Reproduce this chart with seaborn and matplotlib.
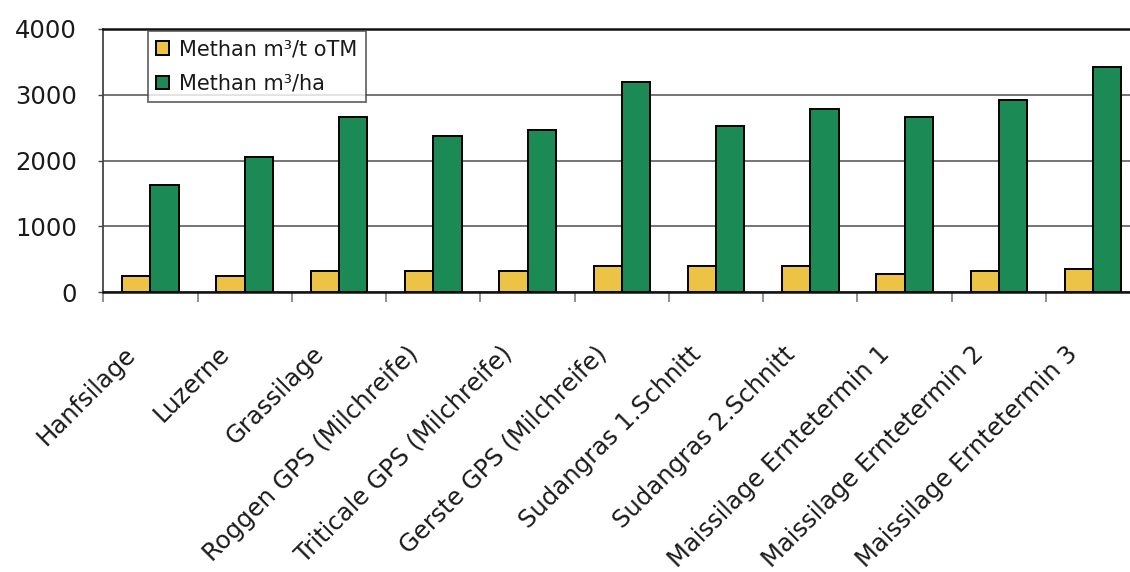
import numpy as np
import pandas as pd
import matplotlib
matplotlib.use("Agg")
import matplotlib.pyplot as plt
import matplotlib.transforms as mtransforms
import seaborn as sns

categories = [
    "Hanfsilage", "Luzerne", "Grassilage", "Roggen GPS (Milchreife)",
    "Triticale GPS (Milchreife)", "Gerste GPS (Milchreife)",
    "Sudangras 1.Schnitt", "Sudangras 2.Schnitt",
    "Maissilage Erntetermin 1", "Maissilage Erntetermin 2",
    "Maissilage Erntetermin 3",
]
series_names = ["Methan m³/t oTM", "Methan m³/ha"]
methan_t_otm = [250, 250, 320, 320, 320, 390, 390, 390, 280, 320, 350]
methan_ha = [1630, 2050, 2660, 2370, 2470, 3200, 2520, 2780, 2660, 2920, 3420]
y_ticks = [0, 1000, 2000, 3000, 4000]

df = pd.DataFrame({
    "Kategorie": categories * 2,
    "Serie": [series_names[0]] * len(categories) + [series_names[1]] * len(categories),
    "Wert": methan_t_otm + methan_ha,
})

sns.set_style("white")
plt.rcParams["font.family"] = ["DejaVu Sans"]

W, H, DPI = 1130, 572, 100
fig = plt.figure(figsize=(W / DPI, H / DPI), dpi=DPI)
ax = fig.add_axes([103.3 / W, (H - 292) / H, 11 * 94.27 / W, (292 - 29) / H])

sns.barplot(data=df, x="Kategorie", y="Wert", hue="Serie",
            order=categories, hue_order=series_names,
            palette=["#EDC346", "#1B8A55"], saturation=1,
            width=0.6, edgecolor="black", linewidth=1.4, ax=ax)

ax.set_xlim(-0.5, len(categories) - 0.5)
ax.set_ylim(0, 4000)
ax.set_yticks(y_ticks)
ax.set_xlabel("")
ax.set_ylabel("")

# grid
ax.set_axisbelow(True)
ax.yaxis.grid(True, color="#6a6a6a", linewidth=1.3)
ax.xaxis.grid(False)

# spines
ax.spines["right"].set_visible(False)
ax.spines["top"].set_color("#111111")
ax.spines["top"].set_linewidth(1.8)
ax.spines["left"].set_color("#444444")
ax.spines["left"].set_linewidth(1.3)
ax.spines["bottom"].set_color("#111111")
ax.spines["bottom"].set_linewidth(1.8)

# y ticks
ax.tick_params(axis="y", direction="out", length=3.6, width=1.0, color="#444444",
               pad=15.5, labelsize=17.5, labelcolor="#1a1a1a", left=True)

# x ticks: boundary ticks as minor, labels on centers
ax.set_xticks(np.arange(-0.5, len(categories), 1.0), minor=True)
ax.set_xticks(range(len(categories)))
ax.set_xticklabels(categories)
ax.tick_params(axis="x", which="major", length=0, pad=42, labelsize=17.5,
               labelcolor="#1a1a1a")
ax.tick_params(axis="x", which="minor", direction="out", length=7.2, width=1.3,
               color="#888888", bottom=True)
offset = mtransforms.ScaledTranslation(-19 / DPI, 0, fig.dpi_scale_trans)
for lab in ax.get_xticklabels():
    lab.set_rotation(45)
    lab.set_ha("right")
    lab.set_va("center")
    lab.set_rotation_mode("anchor")
    lab.set_transform(lab.get_transform() + offset)

# legend
handles, labels = ax.get_legend_handles_labels()
if ax.get_legend() is not None:
    ax.get_legend().remove()
leg = fig.legend(handles, labels, loc="upper left",
                 bbox_to_anchor=(148 / W, (H - 31) / H),
                 bbox_transform=fig.transFigure, borderaxespad=0,
                 fontsize=15, frameon=True, fancybox=False, shadow=False,
                 handlelength=0.6, handleheight=0.6, handletextpad=0.5,
                 labelspacing=0.7, borderpad=0.4)
leg.get_frame().set_edgecolor("#444444")
leg.get_frame().set_linewidth(1.3)
leg.get_frame().set_facecolor("white")
for t in leg.get_texts():
    t.set_color("#1a1a1a")

fig.savefig("out.png", dpi=DPI)
